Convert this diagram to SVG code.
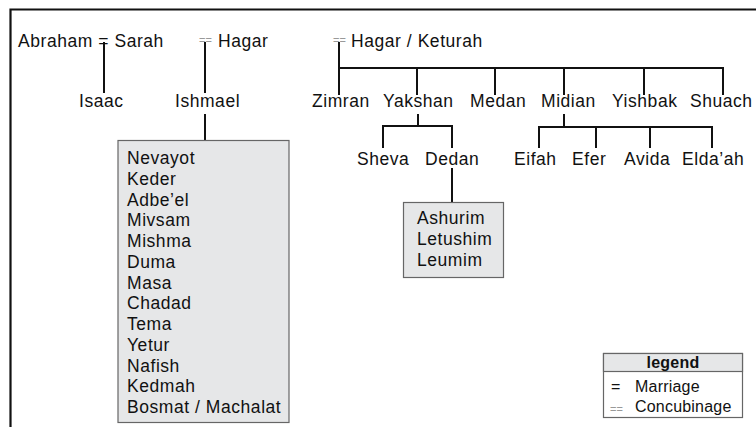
<svg xmlns="http://www.w3.org/2000/svg" width="756" height="427" viewBox="0 0 756 427">
<style>
text{font-family:"Liberation Sans",Arial,sans-serif;font-size:17.5px;letter-spacing:0.55px;fill:#111}
.c{font-size:11px;letter-spacing:0;fill:#999}
.box{fill:#e6e7e8;stroke:#666;stroke-width:1.2}
.ln{stroke:#111;stroke-width:2;fill:none}
.lg{font-size:16px;letter-spacing:0.2px}
</style>
<rect width="756" height="427" fill="#fff"/>
<path d="M10.5 427V9.5H756" stroke="#111" stroke-width="2.2" fill="none"/>
<g id="connectors">
<path class="ln" d="M104 42V93M205 42V93M205 114V140"/>
<path class="ln" d="M339 42V95M339 68H723V95M417 68V95M495 68V95M564 68V95M644 68V95"/>
<path class="ln" d="M418 114V126M383 148V126H452V148M452 168V202"/>
<path class="ln" d="M564 114V127M539 148V127H712V148M596 127V148M650 127V148"/>
</g>
<g id="abraham-sarah"><text x="18" y="47">Abraham = Sarah</text></g>
<g id="hagar"><text class="c" x="199" y="44">==</text><text x="218" y="47">Hagar</text></g>
<g id="hagar-keturah"><text class="c" x="333" y="44">==</text><text x="351" y="47">Hagar / Keturah</text></g>
<g id="isaac"><text x="79" y="107">Isaac</text></g>
<g id="ishmael"><text x="175" y="107">Ishmael</text></g>
<g id="ishmael-sons"><rect class="box" x="118" y="140.5" width="171" height="282"/>
<text x="127" y="164">Nevayot</text><text x="127" y="184.75">Keder</text><text x="127" y="205.5">Adbe’el</text><text x="127" y="226.25">Mivsam</text><text x="127" y="247">Mishma</text><text x="127" y="267.75">Duma</text><text x="127" y="288.5">Masa</text><text x="127" y="309.25">Chadad</text><text x="127" y="330">Tema</text><text x="127" y="350.75">Yetur</text><text x="127" y="371.5">Nafish</text><text x="127" y="392.25">Kedmah</text><text x="127" y="413">Bosmat / Machalat</text></g>
<g id="zimran"><text x="312" y="107">Zimran</text></g>
<g id="yakshan"><text x="383" y="107">Yakshan</text></g>
<g id="medan"><text x="470" y="107">Medan</text></g>
<g id="midian"><text x="541" y="107">Midian</text></g>
<g id="yishbak"><text x="612" y="107">Yishbak</text></g>
<g id="shuach"><text x="690" y="107">Shuach</text></g>
<g id="sheva"><text x="357" y="165">Sheva</text></g>
<g id="dedan"><text x="425" y="165">Dedan</text></g>
<g id="eifah"><text x="514" y="165">Eifah</text></g>
<g id="efer"><text x="572" y="165">Efer</text></g>
<g id="avida"><text x="624" y="165">Avida</text></g>
<g id="eldaah"><text x="682" y="165">Elda’ah</text></g>
<g id="dedan-sons"><rect class="box" x="403.5" y="202.5" width="100" height="75"/>
<text x="417" y="224">Ashurim</text><text x="417" y="245">Letushim</text><text x="417" y="266">Leumim</text></g>
<g id="legend">
<rect x="603.5" y="353.5" width="139" height="64" fill="#fff" stroke="#666" stroke-width="1.2"/>
<rect class="box" x="603.5" y="353.5" width="139" height="18"/>
<text class="lg" x="673" y="368" text-anchor="middle" font-weight="bold">legend</text>
<text class="lg" x="611" y="392">=</text><text class="lg" x="635" y="392">Marriage</text>
<text class="c" x="610" y="413">==</text><text class="lg" x="635" y="412">Concubinage</text>
</g>
</svg>
